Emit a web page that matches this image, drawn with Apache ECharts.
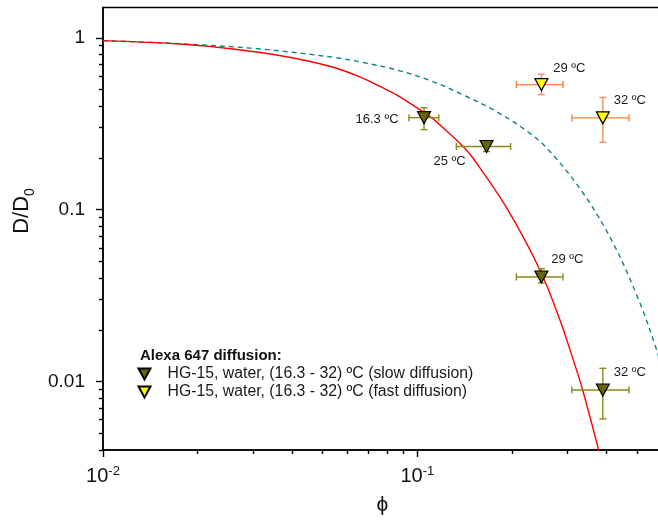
<!DOCTYPE html>
<html><head><meta charset="utf-8">
<script src="https://cdn.jsdelivr.net/npm/echarts@6/dist/echarts.min.js"></script>
<style>html,body{margin:0;padding:0;background:#fff}#c{width:658px;height:522px}</style>
</head><body><div id="c"></div>
<script>
const FONT = '"Liberation Sans", Arial, Helvetica, sans-serif';

// ---- data ----
const slowName = 'HG-15, water, (16.3 - 32) ºC (slow diffusion)';
const fastName = 'HG-15, water, (16.3 - 32) ºC (fast diffusion)';
const legendTitle = 'Alexa 647 diffusion:';
const yAxisTitle = 'D/D{sub|0}';
const xAxisTitle = 'ϕ';

const slowX   = [0.105, 0.166, 0.248, 0.389];
const slowY   = [0.343, 0.233, 0.0406, 0.00894];
const slowXLo = [0.094, 0.133, 0.2065, 0.31];
const slowXHi = [0.117, 0.198, 0.2905, 0.471];
const slowYLo = [0.292, 0.218, 0.0375, 0.00607];
const slowYHi = [0.392, 0.252, 0.0454, 0.01195];
const slowLabels = ['16.3 ºC', '25 ºC', '29 ºC', '32 ºC'];

const fastX   = [0.248, 0.389];
const fastY   = [0.534, 0.342];
const fastXLo = [0.2065, 0.31];
const fastXHi = [0.2905, 0.471];
const fastYLo = [0.467, 0.2468];
const fastYHi = [0.614, 0.45];
const fastLabels = ['29 ºC', '32 ºC'];

const solidX = [0.01, 0.01757, 0.02597, 0.03839, 0.0540, 0.0673, 0.0760, 0.0859, 0.1097, 0.1180, 0.140, 0.1506, 0.1923, 0.2454, 0.2841, 0.3133, 0.3355, 0.3761, 0.380];
const solidY = [0.962, 0.920, 0.861, 0.776, 0.674, 0.581, 0.5207, 0.465, 0.3475, 0.311, 0.2326, 0.1985, 0.1023, 0.04459, 0.02283, 0.01335, 0.00894, 0.00409, 0.0037];

const dashX = [0.01, 0.01757, 0.03158, 0.0540, 0.0673, 0.0859, 0.1097, 0.140, 0.1788, 0.228, 0.2641, 0.3371, 0.4199, 0.5105, 0.5769, 0.59];
const dashY = [0.962, 0.924, 0.861, 0.770, 0.718, 0.650, 0.5645, 0.465, 0.3716, 0.2782, 0.2181, 0.1246, 0.0637, 0.02866, 0.01527, 0.0132];

const xMajorTicks = [0.01, 0.1];
const xMinorTicks = [0.02, 0.03, 0.04, 0.05, 0.06, 0.07, 0.08, 0.09, 0.2, 0.3, 0.4, 0.5];
const yMajorTicks = [0.01, 0.1, 1];
const yMinorTicks = [0.004, 0.005, 0.006, 0.007, 0.008, 0.009, 0.02, 0.03, 0.04, 0.05, 0.06, 0.07, 0.08, 0.09, 0.2, 0.3, 0.4, 0.5, 0.6, 0.7, 0.8, 0.9];
const xTickText = ['10{s|-2}', '10{s|-1}'];
const yTickText = ['0.01', '0.1', '1'];

// ---- layout / style (not data) ----
const slowLabelOffsets = [[-47, 2], [-37, 15], [26, -18], [27, -18]];
const fastLabelOffsets = [[28, -16], [27, -17]];
const X_MIN = 0.01, X_MAX = 0.6, Y_MIN = 0.004, Y_MAX = 1.5;

function pickLabel(v, ticks, texts) {
  for (let i = 0; i < ticks.length; i++) {
    if (Math.abs(Math.log10(v) - Math.log10(ticks[i])) < 1e-3) return texts[i];
  }
  return '';
}

function errData(xs, ys, xl, xh, yl, yh) {
  return xs.map((x, i) => [x, ys[i], xl[i], xh[i], yl[i], yh[i]]);
}

function errRenderer(colX, colY) {
  return function (params, api) {
    const x = api.value(0), y = api.value(1);
    const pL = api.coord([api.value(2), y]);
    const pR = api.coord([api.value(3), y]);
    const pB = api.coord([x, api.value(4)]);
    const pT = api.coord([x, api.value(5)]);
    const c = 3.5;
    const sx = {stroke: colX, lineWidth: 1.4};
    const sy = {stroke: colY, lineWidth: 1.4};
    return {
      type: 'group',
      children: [
        {type: 'line', shape: {x1: pL[0], y1: pL[1], x2: pR[0], y2: pR[1]}, style: sx},
        {type: 'line', shape: {x1: pL[0], y1: pL[1] - c, x2: pL[0], y2: pL[1] + c}, style: sx},
        {type: 'line', shape: {x1: pR[0], y1: pR[1] - c, x2: pR[0], y2: pR[1] + c}, style: sx},
        {type: 'line', shape: {x1: pT[0], y1: pT[1], x2: pB[0], y2: pB[1]}, style: sy},
        {type: 'line', shape: {x1: pT[0] - c, y1: pT[1], x2: pT[0] + c, y2: pT[1]}, style: sy},
        {type: 'line', shape: {x1: pB[0] - c, y1: pB[1], x2: pB[0] + c, y2: pB[1]}, style: sy}
      ]
    };
  };
}

function pointData(xs, ys, labels, offsets) {
  return xs.map((x, i) => ({
    value: [x, ys[i]],
    name: labels[i],
    label: {offset: offsets[i]}
  }));
}

const pointLabel = {
  show: true, position: 'inside', formatter: p => p.name,
  color: '#1a1a1a', fontSize: 13, fontFamily: FONT
};

const chart = echarts.init(document.getElementById('c'), null, {renderer: 'canvas'});
chart.setOption({
  backgroundColor: '#fff',
  animation: false,
  textStyle: {fontFamily: FONT},
  grid: {
    left: 103, top: 7.5, width: 559, height: 442.5,
    outerBoundsMode: 'none', containLabel: false,
    show: true, borderColor: '#000', borderWidth: 1.5, backgroundColor: 'transparent'
  },
  title: {
    text: legendTitle, left: 140, top: 348, padding: 0,
    textStyle: {fontSize: 15, fontWeight: 'bold', fontFamily: FONT, color: '#111'}
  },
  legend: {
    data: [slowName, fastName], orient: 'vertical', left: 137.5, top: 366, padding: 0,
    itemWidth: 12, itemHeight: 11, itemGap: 2,
    icon: 'path://M0,0 L12,0 L6,11 Z',
    textStyle: {fontSize: 15.8, lineHeight: 16, fontFamily: FONT, color: '#1a1a1a', padding: [0, 0, 0, 12]},
    selectedMode: false
  },
  graphic: [
    {
      type: 'text', x: 22, y: 211, rotation: Math.PI / 2,
      style: {
        text: yAxisTitle, fontSize: 22, fontFamily: FONT, fill: '#111',
        align: 'center', verticalAlign: 'middle',
        rich: {sub: {fontSize: 14, fontFamily: FONT, fill: '#111', verticalAlign: 'bottom', lineHeight: 14, padding: [0, 0, -4, 0]}}
      }
    }
  ],
  xAxis: [
    {
      type: 'log', logBase: 10, min: X_MIN, max: X_MAX, position: 'bottom',
      axisLine: {show: true, lineStyle: {color: '#000', width: 1.5}},
      axisTick: {show: true, inside: false, length: 7, customValues: xMajorTicks, lineStyle: {color: '#000', width: 1.4}},
      axisLabel: {
        show: true, margin: 15, customValues: xMajorTicks, color: '#111',
        fontSize: 20, lineHeight: 22, fontFamily: FONT,
        formatter: v => pickLabel(v, xMajorTicks, xTickText),
        rich: {s: {fontSize: 13, lineHeight: 13, verticalAlign: 'top', fontFamily: FONT, color: '#111'}}
      },
      splitLine: {show: false}, minorTick: {show: false},
      name: xAxisTitle, nameLocation: 'middle', nameGap: 45,
      nameTextStyle: {fontSize: 21, color: '#111', fontFamily: FONT}
    },
    {
      type: 'log', logBase: 10, min: X_MIN, max: X_MAX, position: 'bottom',
      axisLine: {show: false},
      axisTick: {show: true, inside: false, length: 4, customValues: xMinorTicks, lineStyle: {color: '#000', width: 1.4}},
      axisLabel: {show: false}, splitLine: {show: false}
    }
  ],
  yAxis: [
    {
      type: 'log', logBase: 10, min: Y_MIN, max: Y_MAX, position: 'left',
      axisLine: {show: true, lineStyle: {color: '#000', width: 1.5}},
      axisTick: {show: true, inside: false, length: 7, customValues: yMajorTicks, lineStyle: {color: '#000', width: 1.4}},
      axisLabel: {
        show: true, margin: 18, customValues: yMajorTicks, color: '#111',
        fontSize: 19, fontFamily: FONT,
        formatter: v => pickLabel(v, yMajorTicks, yTickText)
      },
      splitLine: {show: false}, minorTick: {show: false}
    },
    {
      type: 'log', logBase: 10, min: Y_MIN, max: Y_MAX, position: 'left',
      axisLine: {show: false},
      axisTick: {show: true, inside: false, length: 4, customValues: yMinorTicks, lineStyle: {color: '#000', width: 1.4}},
      axisLabel: {show: false}, splitLine: {show: false}
    }
  ],
  series: [
    {
      name: 'fit-fast', type: 'line', xAxisIndex: 0, yAxisIndex: 0,
      data: dashX.map((x, i) => [x, dashY[i]]),
      showSymbol: false, smooth: 0.35, clip: true,
      lineStyle: {color: '#0e8484', width: 1.4, type: [5, 4]}, z: 2
    },
    {
      name: 'fit-slow', type: 'line', xAxisIndex: 0, yAxisIndex: 0,
      data: solidX.map((x, i) => [x, solidY[i]]),
      showSymbol: false, smooth: 0.35, clip: true,
      lineStyle: {color: '#ff0000', width: 1.4}, z: 3
    },
    {
      name: 'err-slow', type: 'custom', xAxisIndex: 0, yAxisIndex: 0,
      data: errData(slowX, slowY, slowXLo, slowXHi, slowYLo, slowYHi),
      renderItem: errRenderer('#8a8a14', '#8a8a14'), z: 4
    },
    {
      name: 'err-fast', type: 'custom', xAxisIndex: 0, yAxisIndex: 0,
      data: errData(fastX, fastY, fastXLo, fastXHi, fastYLo, fastYHi),
      renderItem: errRenderer('#ff8030', '#f58a68'), z: 4
    },
    {
      name: slowName, type: 'scatter', xAxisIndex: 0, yAxisIndex: 0,
      data: pointData(slowX, slowY, slowLabels, slowLabelOffsets),
      symbol: 'triangle', symbolRotate: 180, symbolSize: [13, 12],
      itemStyle: {color: '#666600', borderColor: '#000', borderWidth: 1.2, opacity: 1},
      label: pointLabel, z: 5
    },
    {
      name: fastName, type: 'scatter', xAxisIndex: 0, yAxisIndex: 0,
      data: pointData(fastX, fastY, fastLabels, fastLabelOffsets),
      symbol: 'triangle', symbolRotate: 180, symbolSize: [13, 12],
      itemStyle: {color: '#ffff00', borderColor: '#000', borderWidth: 1.2, opacity: 1},
      label: pointLabel, z: 5
    }
  ]
});
</script>
</body></html>
